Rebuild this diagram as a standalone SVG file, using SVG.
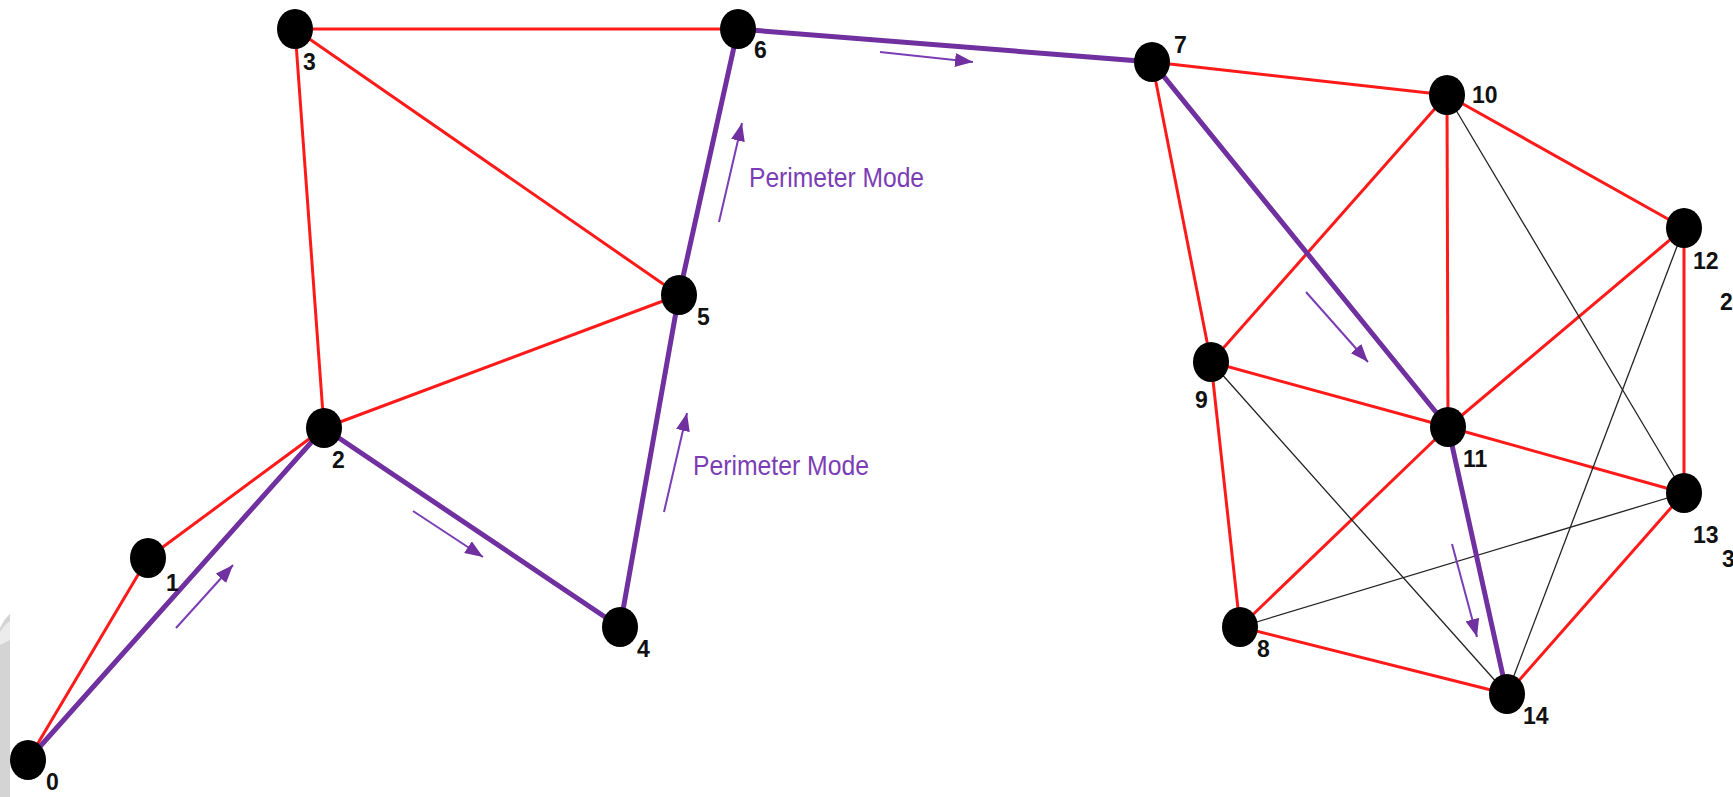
<svg xmlns="http://www.w3.org/2000/svg" width="1733" height="797" viewBox="0 0 1733 797">
  <style>
    .red { stroke: #ff1a1a; stroke-width: 3; fill: none; }
    .path { stroke: #7030a0; stroke-width: 5; fill: none; }
    .thin { stroke: #222; stroke-width: 1.3; fill: none; }
    .dir { stroke: #7a3db5; stroke-width: 2; fill: none; marker-end: url(#head); }
    .node ellipse { fill: #000; }
    .lbl { font-family: "Liberation Sans", Arial, sans-serif; font-weight: bold; font-size: 23px; fill: #111; }
    .mode { font-family: "Liberation Sans", Arial, sans-serif; font-size: 28px; fill: #7b3db5; }
  </style>
  <defs>
    <marker id="head" markerUnits="userSpaceOnUse" markerWidth="20" markerHeight="14" refX="18" refY="7" orient="auto">
      <path d="M0,0 L18,7 L0,14 Z" fill="#7030a0"/>
    </marker>
  </defs>
  <rect width="1733" height="797" fill="#fff"/>

  <!-- grey edge strip at lower left -->
  <g id="edge-strip">
    <path d="M0,628 Q5,618 10,614 L10,797 L0,797 Z" fill="#d4d4d4"/>
    <path d="M0,632 Q5,624 10,621 L10,640 L0,645 Z" fill="#ececec"/>
  </g>

  <g id="connectors">
    <!-- red links -->
    <line class="red" x1="28" y1="760" x2="148" y2="558"/>
    <line class="red" x1="148" y1="558" x2="324" y2="428"/>
    <line class="red" x1="324" y1="428" x2="295" y2="29"/>
    <line class="red" x1="324" y1="428" x2="679" y2="295"/>
    <line class="red" x1="295" y1="29" x2="738" y2="29"/>
    <line class="red" x1="295" y1="29" x2="679" y2="295"/>
    <line class="red" x1="1152" y1="62" x2="1447" y2="95"/>
    <line class="red" x1="1152" y1="62" x2="1211" y2="362"/>
    <line class="red" x1="1447" y1="95" x2="1211" y2="362"/>
    <line class="red" x1="1447" y1="95" x2="1448" y2="427"/>
    <line class="red" x1="1447" y1="95" x2="1684" y2="228"/>
    <line class="red" x1="1211" y1="362" x2="1448" y2="427"/>
    <line class="red" x1="1211" y1="362" x2="1240" y2="627"/>
    <line class="red" x1="1448" y1="427" x2="1684" y2="228"/>
    <line class="red" x1="1448" y1="427" x2="1684" y2="493"/>
    <line class="red" x1="1448" y1="427" x2="1240" y2="627"/>
    <line class="red" x1="1684" y1="228" x2="1684" y2="493"/>
    <line class="red" x1="1684" y1="493" x2="1507" y2="694"/>
    <line class="red" x1="1240" y1="627" x2="1507" y2="694"/>
    <!-- thin black links -->
    <line class="thin" x1="1447" y1="95" x2="1684" y2="493"/>
    <line class="thin" x1="1211" y1="362" x2="1507" y2="694"/>
    <line class="thin" x1="1684" y1="228" x2="1507" y2="694"/>
    <line class="thin" x1="1240" y1="627" x2="1684" y2="493"/>
    <!-- perimeter route -->
    <polyline class="path" points="28,760 324,428 620,627 679,295 738,29 1152,62 1448,427 1507,694"/>
    <!-- direction arrows -->
    <line class="dir" x1="176" y1="628" x2="233" y2="565"/>
    <line class="dir" x1="413" y1="511" x2="483" y2="557"/>
    <line class="dir" x1="664" y1="512" x2="687" y2="413"/>
    <line class="dir" x1="719" y1="222" x2="742" y2="123"/>
    <line class="dir" x1="880" y1="52" x2="973" y2="62"/>
    <line class="dir" x1="1306" y1="292" x2="1368" y2="362"/>
    <line class="dir" x1="1452" y1="544" x2="1477" y2="637"/>
  </g>

  <g id="annotations">
    <text class="mode" x="749" y="187" textLength="175" lengthAdjust="spacingAndGlyphs">Perimeter Mode</text>
    <text class="mode" x="693" y="475" textLength="176" lengthAdjust="spacingAndGlyphs">Perimeter Mode</text>
  </g>

  <g id="n0" class="node"><ellipse cx="28" cy="760" rx="18" ry="20"/><text class="lbl" x="46" y="790">0</text></g>
  <g id="n1" class="node"><ellipse cx="148" cy="558" rx="18" ry="20"/><text class="lbl" x="166" y="591">1</text></g>
  <g id="n2" class="node"><ellipse cx="324" cy="428" rx="18" ry="20"/><text class="lbl" x="332" y="468">2</text></g>
  <g id="n3" class="node"><ellipse cx="295" cy="29" rx="18" ry="20"/><text class="lbl" x="303" y="70">3</text></g>
  <g id="n4" class="node"><ellipse cx="620" cy="627" rx="18" ry="20"/><text class="lbl" x="637" y="657">4</text></g>
  <g id="n5" class="node"><ellipse cx="679" cy="295" rx="18" ry="20"/><text class="lbl" x="697" y="325">5</text></g>
  <g id="n6" class="node"><ellipse cx="738" cy="29" rx="18" ry="20"/><text class="lbl" x="754" y="58">6</text></g>
  <g id="n7" class="node"><ellipse cx="1152" cy="62" rx="18" ry="20"/><text class="lbl" x="1174" y="53">7</text></g>
  <g id="n8" class="node"><ellipse cx="1240" cy="627" rx="18" ry="20"/><text class="lbl" x="1257" y="657">8</text></g>
  <g id="n9" class="node"><ellipse cx="1211" cy="362" rx="18" ry="20"/><text class="lbl" x="1195" y="408">9</text></g>
  <g id="n10" class="node"><ellipse cx="1447" cy="95" rx="18" ry="20"/><text class="lbl" x="1472" y="103">10</text></g>
  <g id="n11" class="node"><ellipse cx="1448" cy="427" rx="18" ry="20"/><text class="lbl" x="1463" y="467">11</text></g>
  <g id="n12" class="node"><ellipse cx="1684" cy="228" rx="18" ry="20"/><text class="lbl" x="1693" y="269">12</text><text class="lbl" x="1720" y="310">2</text></g>
  <g id="n13" class="node"><ellipse cx="1684" cy="493" rx="18" ry="20"/><text class="lbl" x="1693" y="543">13</text><text class="lbl" x="1722" y="567">3</text></g>
  <g id="n14" class="node"><ellipse cx="1507" cy="694" rx="18" ry="20"/><text class="lbl" x="1523" y="724">14</text></g>
</svg>
